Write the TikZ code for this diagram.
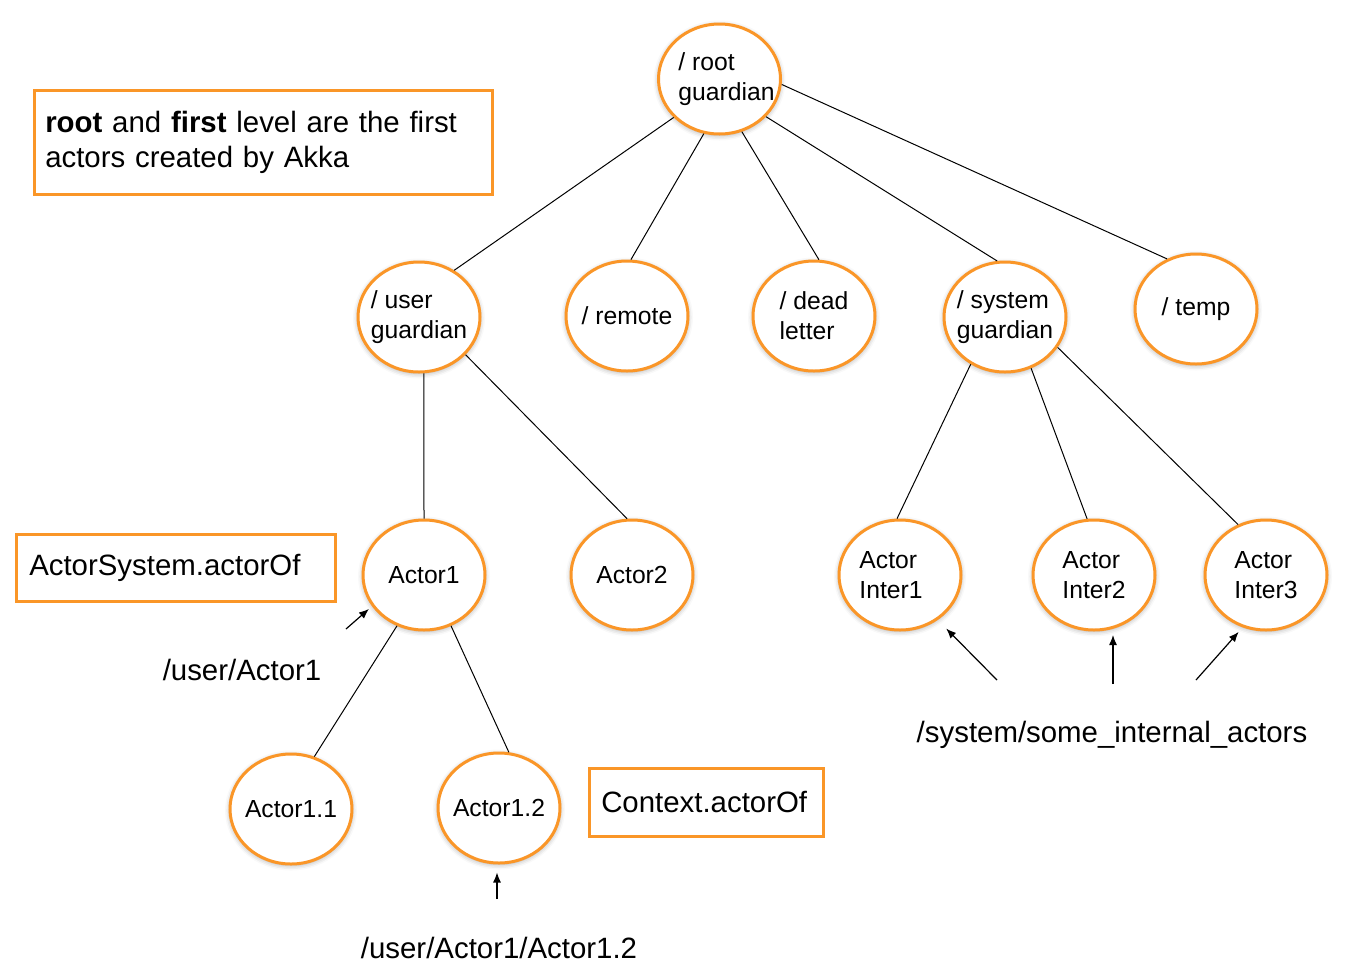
\documentclass[tikz,border=0pt]{standalone}
\usepackage{fontspec}
\setmainfont{Liberation Sans}
\usetikzlibrary{shapes.geometric,shadows.blur,arrows.meta}
\definecolor{akorange}{RGB}{250,150,40}
\begin{document}
\begin{tikzpicture}[x=1pt,y=-1pt,
 actor/.style={ellipse, draw=akorange, line width=3pt, fill=white,
   minimum width=122pt, minimum height=110pt, inner ysep=0pt, inner xsep=-6pt, align=left,
   font=\fontsize{24.7}{30}\selectfont,
   blur shadow={shadow xshift=0pt, shadow yshift=-1.5pt, shadow blur radius=5pt, shadow opacity=35}},
 note/.style={draw=akorange, line width=2.5pt, rectangle, align=left,
   font=\fontsize{29.4}{35}\selectfont, anchor=north west},
 plain/.style={font=\fontsize{29.4}{35}\selectfont, inner sep=0pt},
 edge/.style={line width=1pt},
 ptr/.style={line width=1.2pt, -{Latex[length=10pt,width=8pt]}}
]
\useasboundingbox (0,0) rectangle (1350,978);

% notes
\node[note, minimum width=458pt, minimum height=104pt, inner xsep=11pt, text width=436pt] (n1) at (33,89)
  {\textbf{root} and \textbf{first} level are the first\\actors created by Akka};
\node[note, minimum width=319pt, minimum height=67pt, inner xsep=13pt, text width=293pt] (n2) at (15,533)
  {ActorSystem.actorOf};
\node[note, minimum width=234pt, minimum height=68pt, inner xsep=12pt, text width=210pt] (n3) at (588,767)
  {Context.actorOf};

% actors
\node[actor, inner xsep=-13pt] (root) at (719.5,79) {\hspace*{14pt}/ root\\\hspace*{14pt}guardian};
\node[actor] (user)   at (419,317)  {/ user\\guardian};
\node[actor] (remote) at (627,316)  {/ remote};
\node[actor] (dead)   at (814,316)  {/ dead\\letter};
\node[actor] (system) at (1005,317) {/ system\\guardian};
\node[actor] (temp)   at (1196,309) {/ temp};
\node[actor] (a1)     at (424,575)  {Actor1};
\node[actor] (a2)     at (632,575)  {Actor2};
\node[actor] (i1)     at (900,575)  {Actor\\Inter1\hspace*{18pt}};
\node[actor] (i2)     at (1094,575) {Actor\\Inter2};
\node[actor] (i3)     at (1266,575) {Actor\\Inter3};
\node[actor] (a11)    at (291,809)  {Actor1.1};
\node[actor] (a12)    at (499,808)  {Actor1.2};

% edges
\draw[edge] (root.220) -- (user.53);
\draw[edge] (root.254) -- (remote.86);
\draw[edge] (root.293) -- (dead.85);
\draw[edge] (root.321) -- (system.98);
\draw[edge] (root.355) -- (temp.120);
\draw[edge] (user.275) -- (a1.90);
\draw[edge] (user.321) -- (a2.95);
\draw[edge] (system.234) -- (i1.93);
\draw[edge] (system.297) -- (i2.97);
\draw[edge] (system.330) -- (i3.119);
\draw[edge] (a1.242) -- (a11.66);
\draw[edge] (a1.298) -- (a12.80);

% path labels and pointers
\node[plain] (l1) at (242,670) {/user/Actor1};
\coordinate (p1) at (346,629);
\draw[ptr, shorten >=4pt] (p1) -- (a1.211);

\node[plain] (l2) at (499,948) {/user/Actor1/Actor1.2};
\coordinate (p2) at (497,899);
\draw[ptr, shorten >=8pt] (p2) -- (p2 |- a12.south);

\node[plain] (l3) at (1112,735) {/system/some\_internal\_actors};
\coordinate (p3) at (997,680);
\coordinate (p4) at (1113,684);
\coordinate (p5) at (1196,680);
\draw[ptr, shorten >=12pt] (p3) -- (i1.310);
\draw[ptr, shorten >=3.5pt] (p4) -- (p4 |- i2.south);
\draw[ptr, shorten >=6pt] (p5) -- (i3.246);
\end{tikzpicture}
\end{document}
